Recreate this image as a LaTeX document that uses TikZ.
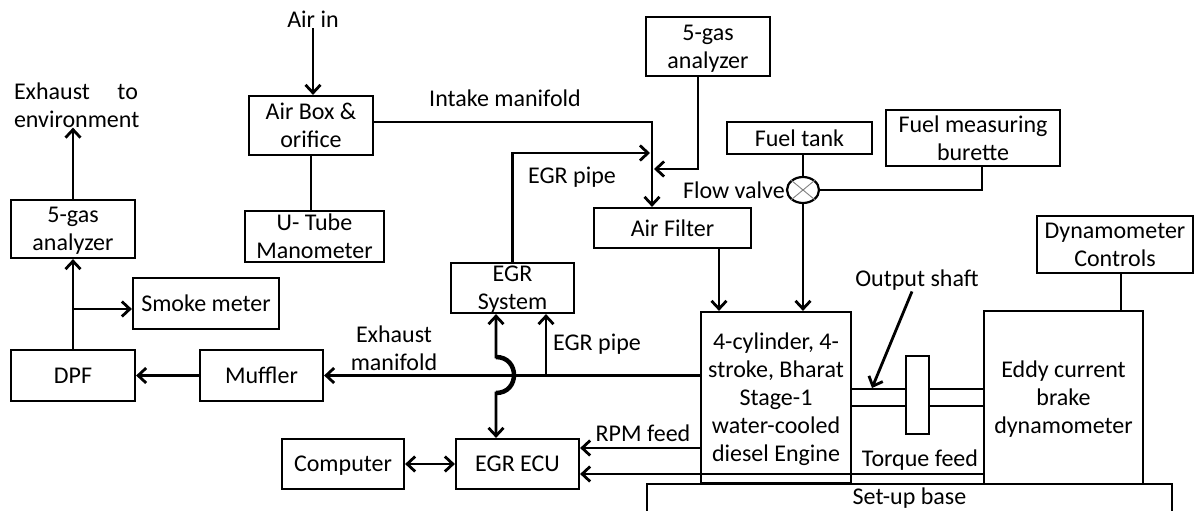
\documentclass[tikz,border=0pt]{standalone}
\usepackage{fontspec}
\setmainfont{Carlito}
\usetikzlibrary{arrows.meta,shapes.geometric}
\begin{document}
\begin{tikzpicture}[x=1pt,y=-1pt,
  every node/.style={font=\fontsize{24}{28}\selectfont, text=black},
  box/.style={draw, line width=2.2pt, inner sep=0pt, align=center, text depth=0pt},
  txt/.style={inner sep=1pt, align=center},
  conn/.style={line width=2.8pt},
  tip/.tip={Straight Barb[length=8pt,width=15pt]},
  arr/.style={conn, -tip},
]
\useasboundingbox (0,0) rectangle (1195,511);

% boxes
\node[box, minimum width=124pt, minimum height=59pt] (airbox) at (311,125.5) {Air Box \&\\orifice};
\node[box, minimum width=139pt, minimum height=51pt] (utube) at (314.5,236.5) {U- Tube\\Manometer};
\node[box, minimum width=124pt, minimum height=58pt] (gasA) at (73,229) {5-gas\\analyzer};
\node[box, minimum width=146pt, minimum height=51pt] (smoke) at (206,303.5) {Smoke meter};
\node[box, minimum width=124pt, minimum height=51pt] (dpf) at (73,375.5) {DPF};
\node[box, minimum width=123pt, minimum height=51pt] (muffler) at (261.5,375.5) {Muffler};
\node[box, minimum width=122pt, minimum height=50pt] (computer) at (343,464) {Computer};
\node[box, minimum width=123pt, minimum height=50pt] (ecu) at (517.5,464) {EGR ECU};
\node[box, minimum width=123pt, minimum height=50pt] (egrsys) at (512.5,288) {EGR\\System};
\node[box, minimum width=124pt, minimum height=59pt] (gasB) at (708,46.5) {5-gas\\analyzer};
\node[box, minimum width=157pt, minimum height=40pt] (filter) at (672.5,228) {Air Filter};
\node[box, minimum width=145pt, minimum height=32pt] (tank) at (799.5,138) {Fuel tank};
\node[box, minimum width=174pt, minimum height=56pt] (burette) at (973,138) {Fuel measuring\\burette};
\node[box, minimum width=156pt, minimum height=57pt] (dyn) at (1115,244.5) {Dynamometer\\Controls};
\node[box, minimum width=150pt, minimum height=171pt] (engine) at (776,397.5) {4-cylinder, 4-\\stroke, Bharat\\Stage-1\\water-cooled\\diesel Engine};
\node[box, minimum width=159pt, minimum height=173pt] (eddy) at (1063.5,397.5) {Eddy current\\brake\\dynamometer};
\node[box, text depth=7pt, minimum width=525pt, minimum height=32pt] (base) at (909.5,500) {Set-up base};
\node[draw, ellipse, line width=2.2pt, minimum width=32pt, minimum height=26pt, inner sep=0pt] (valve) at (803,190) {};
\draw[gray, line width=0.9pt] (valve.north east) -- (valve.south west) (valve.north west) -- (valve.south east);

% labels
\node[txt] (airin) at (313,19) {Air in};
\node[inner sep=0pt, text width=124pt, align=left] (exh) at (76,105) {Exhaust\hfill to\\environment};
\node[txt] (lintake) at (505,98) {Intake manifold};
\node[txt] (legr1) at (572,177) {EGR pipe};
\node[txt, anchor=east] (lvalve) at (786,190) {Flow valve};
\node[txt] (lexm) at (394,348.5) {Exhaust\\manifold};
\node[txt] (legr2) at (597,344) {EGR pipe};
\node[txt] (lrpm) at (643,433) {RPM feed};
\node[txt] (ltorque) at (920,460) {Torque feed};
\node[txt] (lshaft) at (917,280) {Output shaft};

% coordinates
\coordinate (im) at (652,122);
\coordinate (egrtip) at (650,153);
\coordinate (gastip) at (654,169);
\coordinate (gx) at (698,0);
\coordinate (fx) at (719,0);
\coordinate (bx) at (982,0);
\coordinate (dx) at (1121,0);
\coordinate (s1) at (0,389);
\coordinate (s2) at (0,406);
\coordinate (stip) at (872,388);
\coordinate (tq) at (0,474);
\coordinate (rp) at (0,448);
\coordinate (ej) at (546,375.5);
\coordinate (jx) at (496,0);
\coordinate (sj) at (73,309);

% intake side
\draw[arr] (airin.south) -- (airin.south |- airbox.north);
\draw[conn] (airbox.south) -- (airbox.south |- utube.north);
\draw[arr] (airbox.east |- im) -| (im |- filter.north);
\draw[arr] (egrsys.north) |- (egrtip);
\draw[arr] (gx |- gasB.south) |- (gastip);
\draw[arr] (fx |- filter.south) -- (fx |- engine.north);

% fuel
\draw[conn] (valve.north |- tank.south) -- (valve.north);
\draw[conn] (valve.east) -| (bx |- burette.south);
\draw[arr] (valve.south) -- (valve.south |- engine.north);

% dynamometer
\draw[conn] (dx |- dyn.south) -- (dx |- eddy.north);
\draw[line width=2.2pt] (engine.east |- s1) -- (eddy.west |- s1) (engine.east |- s2) -- (eddy.west |- s2);
\node[box, fill=white, minimum width=23pt, minimum height=78pt] (fly) at (917.5,395) {};
\draw[arr] ([xshift=-5pt]lshaft.south) -- (stip);

% feeds
\draw[arr] (eddy.west |- tq) -- (ecu.east |- tq);
\draw[arr] (engine.west |- rp) -- (ecu.east |- rp);

% exhaust side
\draw[arr] (engine.west |- muffler.east) -- (muffler.east);
\draw[arr] (ej) -- (ej |- egrsys.south);
\draw[conn, tip-tip] (jx |- egrsys.south) -- (496,357) .. controls (520,357) and (520,393) .. (496,393) -- (jx |- ecu.north);
\draw[line width=4.5pt] (496,357) .. controls (520,357) and (520,393) .. (496,393);
\draw[arr] (muffler.west) -- (dpf.east);
\draw[arr] (dpf.north) -- (gasA.south);
\draw[arr] (sj) -- (smoke.west |- sj);
\draw[arr] (gasA.north) -- (gasA.north |- exh.south);
\draw[conn, tip-tip] (computer.east) -- (ecu.west);
\end{tikzpicture}
\end{document}
